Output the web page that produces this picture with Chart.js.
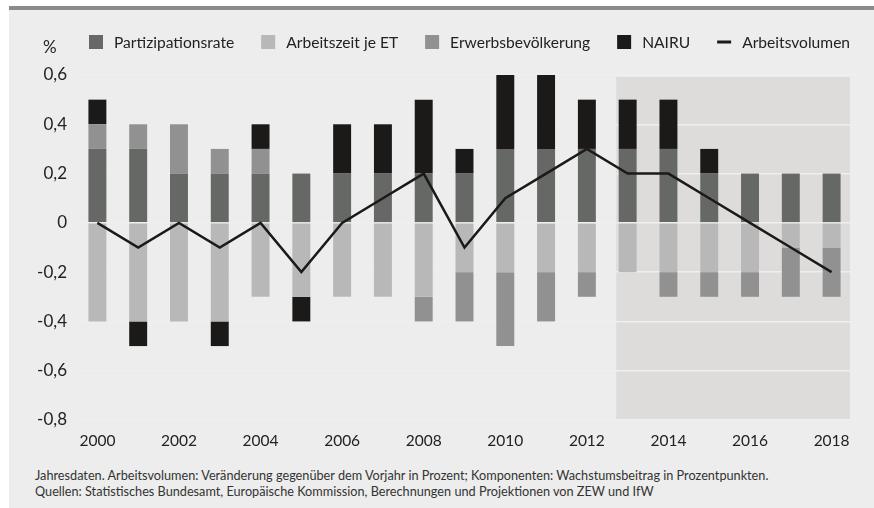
<!DOCTYPE html>
<html>
<head>
<meta charset="utf-8">
<script src="https://cdn.jsdelivr.net/npm/chart.js@4/dist/chart.umd.min.js"></script>
<style>
  body { margin: 0; background: #fff; width: 874px; height: 508px; overflow: hidden; position: relative; }
  #panel { position: absolute; left: 9px; top: 6px; width: 865px; height: 502px; box-sizing: border-box;
           background: #ecedec; border-top: 4px solid #8b8b8b; }
  #c { position: absolute; left: 0; top: 0; }
  .note { position: absolute; left: 35px; font: 12.7px Lato, sans-serif; color: #333; white-space: nowrap; }
</style>
</head>
<body>
<div id="panel"></div>
<canvas id="c" width="874" height="460"></canvas>
<div class="note" style="top:467px">Jahresdaten. Arbeitsvolumen: Veränderung gegenüber dem Vorjahr in Prozent; Komponenten: Wachstumsbeitrag in Prozentpunkten.</div>
<div class="note" style="top:483px">Quellen: Statistisches Bundesamt, Europäische Kommission, Berechnungen und Projektionen von ZEW und IfW</div>
<script>
const years = ['2000', '2001', '2002', '2003', '2004', '2005', '2006', '2007', '2008', '2009',
               '2010', '2011', '2012', '2013', '2014', '2015', '2016', '2017', '2018'];
const partizipationsrate = [0.3, 0.3, 0.2, 0.2, 0.2, 0.2, 0.2, 0.2, 0.2, 0.2, 0.3, 0.3, 0.3, 0.3, 0.3, 0.2, 0.2, 0.2, 0.2];
const arbeitszeitJeET = [-0.4, -0.4, -0.4, -0.4, -0.3, -0.3, -0.3, -0.3, -0.3, -0.2, -0.2, -0.2, -0.2, -0.2, -0.2, -0.2, -0.2, -0.1, -0.1];
const erwerbsbevoelkerung = [0.1, 0.1, 0.2, 0.1, 0.1, 0, 0, 0, -0.1, -0.2, -0.3, -0.2, -0.1, 0, -0.1, -0.1, -0.1, -0.2, -0.2];
const nairu = [0.1, -0.1, 0, -0.1, 0.1, -0.1, 0.2, 0.2, 0.3, 0.1, 0.3, 0.3, 0.2, 0.2, 0.2, 0.1, 0, 0, 0];
const arbeitsvolumen = [0, -0.1, 0, -0.1, 0, -0.2, 0, 0.1, 0.2, -0.1, 0.1, 0.2, 0.3, 0.2, 0.2, 0.1, 0, -0.1, -0.2];
const yTicks = [-0.8, -0.6, -0.4, -0.2, 0, 0.2, 0.4, 0.6];
const projectionStart = '2013';

const FONT = 'Lato';
const TEXT = '#222';

// shaded projection area, drawn before the grid so the grid shows as light lines on it
const projectionPlugin = {
    id: 'projection',
    beforeDraw(chart) {
        const { ctx: c, chartArea, scales } = chart;
        if (!chartArea) return;
        const x = scales.x;
        const idx = years.indexOf(projectionStart);
        const step = x.getPixelForValue(1) - x.getPixelForValue(0);
        const left = x.getPixelForValue(idx) - step * 0.28;
        c.save();
        c.fillStyle = '#dddcdb';
        c.fillRect(left, chartArea.top + 2, chartArea.right - 2 - left, chartArea.bottom - chartArea.top - 3);
        c.restore();
    }
};

// legend row + unit label
const legendPlugin = {
    id: 'legendRow',
    afterDraw(chart) {
        const c = chart.ctx;
        c.save();
        c.textBaseline = 'middle';
        c.fillStyle = TEXT;
        c.font = '17px ' + FONT;
        c.fillText('%', 43, 48);
        c.font = '15.6px ' + FONT;
        let x = 89;
        const y = 42;
        chart.data.datasets.forEach(ds => {
            if (ds.type === 'line') {
                c.fillStyle = ds.borderColor;
                c.fillRect(x, y - 1.5, 14, 3);
            } else {
                c.fillStyle = ds.backgroundColor;
                c.fillRect(x, y - 7, 14, 14);
            }
            x += 25;
            c.fillStyle = TEXT;
            c.fillText(ds.label, x, y + 1);
            x += c.measureText(ds.label).width + 27;
        });
        c.restore();
    }
};

const barDefaults = { type: 'bar', stack: 'k', order: 1, borderWidth: 0, barPercentage: 0.44, categoryPercentage: 1 };

new Chart(document.getElementById('c'), {
    data: {
        labels: years,
        datasets: [
            { ...barDefaults, label: 'Partizipationsrate', data: partizipationsrate, backgroundColor: '#666866' },
            { ...barDefaults, label: 'Arbeitszeit je ET', data: arbeitszeitJeET, backgroundColor: '#b8b8b8' },
            { ...barDefaults, label: 'Erwerbsbevölkerung', data: erwerbsbevoelkerung, backgroundColor: '#919191' },
            { ...barDefaults, label: 'NAIRU', data: nairu, backgroundColor: '#1b1a18' },
            {
                type: 'line', stack: 'v', order: 0, label: 'Arbeitsvolumen', data: arbeitsvolumen,
                borderColor: '#1b1a18', backgroundColor: '#1b1a18', borderWidth: 2.5,
                pointRadius: 0, tension: 0, fill: false
            }
        ]
    },
    options: {
        responsive: false,
        animation: false,
        devicePixelRatio: 1,
        layout: { padding: { top: 75, right: 22, left: 0, bottom: 0 } },
        plugins: {
            legend: { display: false },
            tooltip: { enabled: false }
        },
        scales: {
            x: {
                stacked: true,
                offset: true,
                grid: { display: false, drawTicks: false },
                border: { display: false },
                ticks: {
                    color: TEXT, font: { family: FONT, size: 15.5 }, padding: 12,
                    autoSkip: false, maxRotation: 0,
                    callback: (v, i) => (i % 2 === 0 ? years[i] : '')
                },
                afterFit: s => { s.height = 40; }
            },
            y: {
                stacked: true,
                min: yTicks[0],
                max: yTicks[yTicks.length - 1],
                afterBuildTicks: s => { s.ticks = yTicks.map(v => ({ value: v })); },
                grid: { color: '#eeefee', lineWidth: 1.5, drawTicks: false },
                border: { display: false },
                ticks: {
                    color: TEXT, font: { family: FONT, size: 17 }, padding: 10,
                    callback: v => (Math.abs(v) < 1e-9 ? '0' : v.toFixed(1).replace('.', ','))
                },
                afterFit: s => { s.width = 77; }
            }
        }
    },
    plugins: [projectionPlugin, legendPlugin]
});
</script>
</body>
</html>
